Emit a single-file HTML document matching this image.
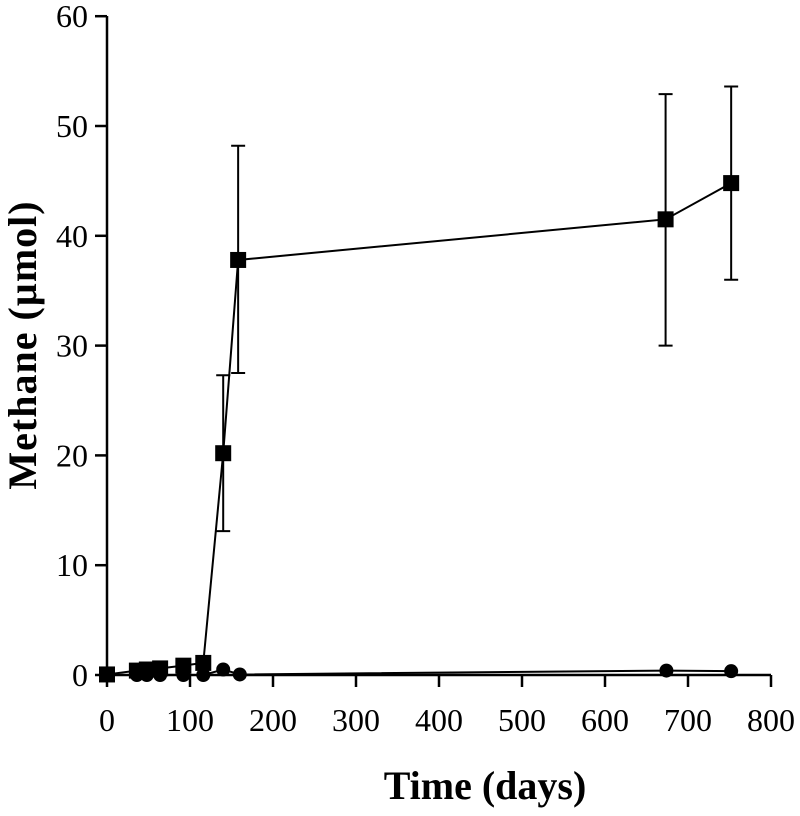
<!DOCTYPE html>
<html><head><meta charset="utf-8"><style>
body{margin:0;background:#fff}
svg{display:block;font-family:"Liberation Serif",serif}
</style></head><body>
<svg id="chart" width="800" height="816"></svg>
<script>
const xTicks=[0,100,200,300,400,500,600,700,800];
const yTicks=[0,10,20,30,40,50,60];
const sqDays=[0,36,48,64,92,116,140,158,673,752];
const sqVals=[0.05,0.4,0.5,0.6,0.85,1.1,20.2,37.8,41.5,44.8];
const sqLo=[null,null,null,null,null,null,13.1,27.5,30.0,36.0];
const sqHi=[null,null,null,null,null,null,27.3,48.2,52.9,53.6];
const ciDays=[0,36,48,64,92,116,140,160,674,752];
const ciVals=[0,0,0,0,0,0,0.5,0.05,0.4,0.35];
const svg=document.getElementById('chart');
const NS='http://www.w3.org/2000/svg';
const X=d=>107+d*0.83;
const Y=v=>675-v*10.98;
function mk(t,a,p){const e=document.createElementNS(NS,t);for(const k in a)e.setAttribute(k,a[k]);(p||svg).appendChild(e);return e;}
let e;
e=mk('line',{x1:107,y1:16,x2:107,y2:675,stroke:'#000','stroke-width':2.5});


e=mk('line',{x1:107,y1:675,x2:771,y2:675,stroke:'#000','stroke-width':2.5});


yTicks.forEach(v=>{
 e=mk('line',{x1:95,y1:Y(v),x2:107,y2:Y(v),stroke:'#000','stroke-width':2.5});
 
 
 e=mk('text',{x:88,y:Y(v)+11,'text-anchor':'end','font-size':32});e.textContent=v;
 
 
});
xTicks.forEach(v=>{
 e=mk('line',{x1:X(v),y1:675,x2:X(v),y2:687,stroke:'#000','stroke-width':2.5});
 
 
 e=mk('text',{x:X(v),y:731,'text-anchor':'middle','font-size':32});e.textContent=v;
 
 
});
e=mk('text',{x:485,y:799,'text-anchor':'middle','font-size':40,'font-weight':'bold'});e.textContent='Time (days)';


e=mk('text',{x:0,y:0,'text-anchor':'middle','font-size':40,'font-weight':'bold','letter-spacing':1,transform:'translate(36,345) rotate(-90)'});e.textContent='Methane (µmol)';


e=mk('polyline',{points:ciDays.map((d,i)=>X(d)+','+Y(ciVals[i])).join(' '),fill:'none',stroke:'#000','stroke-width':2});


ciDays.forEach((d,i)=>{
 e=mk('circle',{cx:X(d),cy:Y(ciVals[i]),r:7,fill:'#000'});
 
 
});
e=mk('polyline',{points:sqDays.map((d,i)=>X(d)+','+Y(sqVals[i])).join(' '),fill:'none',stroke:'#000','stroke-width':2});


sqDays.forEach((d,i)=>{
 if(sqLo[i]!==null){
  const x=X(d);
  e=mk('path',{d:`M${x},${Y(sqLo[i])}V${Y(sqHi[i])}M${x-7},${Y(sqLo[i])}H${x+7}M${x-7},${Y(sqHi[i])}H${x+7}`,stroke:'#000','stroke-width':2,fill:'none'});
  
  
 }
 e=mk('rect',{x:X(d)-8,y:Y(sqVals[i])-8,width:16,height:16,fill:'#000'});
 
 
});
</script>
</body></html>
